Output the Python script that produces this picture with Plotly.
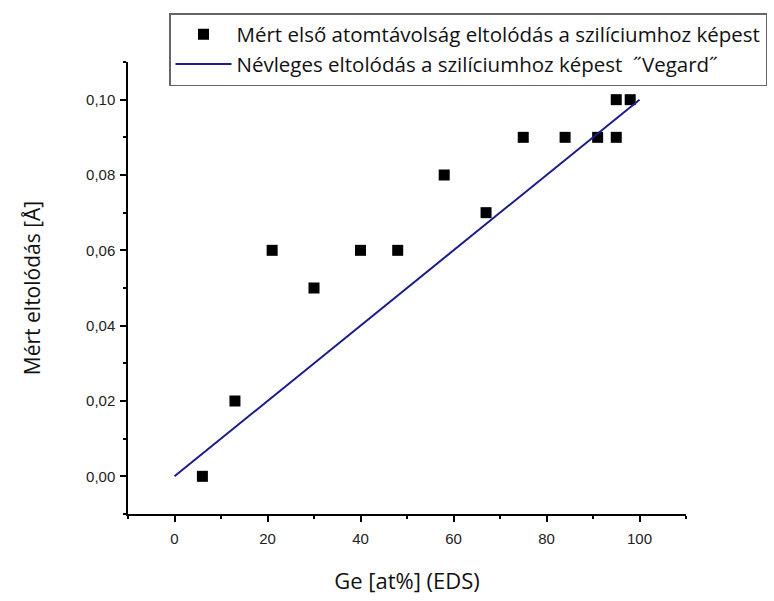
import plotly.graph_objects as go

# Measured first-neighbour shift vs. Ge content (EDS)
ge_at_pct = [6, 13, 21, 30, 40, 48, 58, 67, 75, 84, 91, 95, 95, 98]
measured_shift = [0.00, 0.02, 0.06, 0.05, 0.06, 0.06, 0.08, 0.07,
                  0.09, 0.09, 0.09, 0.09, 0.10, 0.10]

# Nominal (Vegard) shift relative to silicon
vegard_x = [0, 100]
vegard_y = [0.00, 0.10]

x_ticks = [0, 20, 40, 60, 80, 100]
y_ticks = [0.00, 0.02, 0.04, 0.06, 0.08, 0.10]

W, H = 774, 601
ML, MR, MT, MB = 128, 88, 62, 87

fig = go.Figure()
fig.add_trace(go.Scatter(
    x=ge_at_pct, y=measured_shift, mode="markers",
    name="Mért első atomtávolság eltolódás a szilíciumhoz képest",
    marker=dict(symbol="square", size=11, color="black"),
))
fig.add_trace(go.Scatter(
    x=vegard_x, y=vegard_y, mode="lines",
    name="Névleges eltolódás a szilíciumhoz képest  ˝Vegard˝",
    line=dict(color="#1c1c8a", width=2),
))

axis_common = dict(
    showline=True, linecolor="black", linewidth=1.5,
    showgrid=False, zeroline=False, mirror=False,
    ticks="outside", ticklen=6, tickwidth=1.5, tickcolor="black",
    tickfont=dict(family="Liberation Sans, Arial", size=15, color="#222"),
)

fig.update_xaxes(
    range=[-10, 110], tickvals=x_ticks, ticklabelstandoff=4,
    minor=dict(dtick=10, tick0=0, ticks="outside", ticklen=3,
               tickwidth=1.5, tickcolor="black"),
    title=dict(text="Ge [at%] (EDS)", standoff=28,
               font=dict(family="Open Sans", size=22, color="#111")),
    **axis_common,
)
fig.update_yaxes(
    range=[-0.01, 0.11], tickvals=y_ticks, tickformat=".2f",
    ticklabelstandoff=2,
    minor=dict(dtick=0.01, tick0=0, ticks="outside", ticklen=3,
               tickwidth=1.5, tickcolor="black"),
    title=dict(text="Mért eltolódás [Å]", standoff=40,
               font=dict(family="Open Sans", size=21, color="#111")),
    **axis_common,
)

fig.update_layout(
    width=W, height=H,
    margin=dict(l=ML, r=MR, t=MT, b=MB, autoexpand=False),
    paper_bgcolor="white", plot_bgcolor="white",
    separators=",.",
    showlegend=True,
    legend=dict(
        x=(169 - ML) / (W - ML - MR), y=(H - MB - 13) / (H - MT - MB),
        xanchor="left", yanchor="top",
        bordercolor="#666", borderwidth=1.5, bgcolor="white",
        font=dict(family="Open Sans", size=20.5, color="#111"),
        itemwidth=56, tracegroupgap=0,
    ),
)

fig.write_html("out.html")
